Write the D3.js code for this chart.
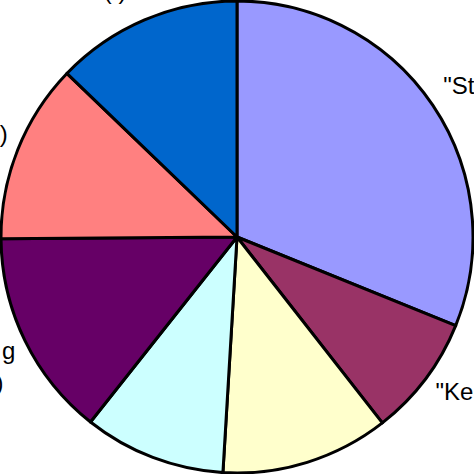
<!DOCTYPE html>
<html><head><meta charset="utf-8">
<script src="https://cdn.jsdelivr.net/npm/d3@7"></script>
<style>html,body{margin:0;padding:0;background:#fff;overflow:hidden}svg{display:block}</style>
</head><body>
<svg id="chart" width="474" height="474"></svg>
<script>
// Slices clockwise from 12 o'clock
const categories = ["A", "B", "C", "D", "E", "F", "G"];
const values = [31.1, 8.3, 11.5, 9.7, 14.2, 12.3, 12.8];
const colors = ["#9999FF", "#993366", "#FFFFCC", "#CCFFFF", "#660066", "#FF8080", "#0066CC"];
// Visible (cropped) label text, one entry per line
const labelLines = [['"St'], ['"Ke'], [], [], ['g', ')'], [')'], ['( )']];

const W = 474, H = 474, cx = 237, cy = 237, R = 236;
const svg = d3.select("#chart");
const g = svg.append("g").attr("transform", `translate(${cx},${cy})`);

const pie = d3.pie().sort(null).value(d => d.v);
const arcs = pie(values.map((v, i) => ({v, i})));
const arc = d3.arc().innerRadius(0).outerRadius(R);
const labelArc = d3.arc().innerRadius(250).outerRadius(250);

g.selectAll("path").data(arcs).join("path")
  .attr("d", arc)
  .attr("fill", d => colors[d.data.i])
  .attr("stroke", "#000")
  .attr("stroke-width", 3)
  .attr("stroke-linejoin", "round");

const fontSize = 24, lineH = 32;
arcs.forEach(d => {
  const lines = labelLines[d.data.i];
  if (!lines.length) return;
  const [px, py] = labelArc.centroid(d);
  const a = (d.startAngle + d.endAngle) / 2;
  const s = Math.sin(a), c = Math.cos(a);
  let anchor, x, y0;
  if (Math.abs(s) < 0.5) { // top / bottom
    anchor = "middle"; x = px - 24;
    y0 = c > 0 ? py - 8 - (lines.length - 1) * lineH : py + 16;
  } else {
    anchor = s > 0 ? "start" : "end";
    x = s > 0 ? px - 1 : px + 3;
    y0 = c > 0 ? py - 3 - (lines.length - 1) * lineH : py + 12;
  }
  const t = g.append("text")
    .attr("text-anchor", anchor)
    .attr("font-family", "Liberation Sans, Arial, sans-serif")
    .attr("font-size", fontSize)
    .attr("fill", "#000");
  lines.forEach((ln, k) => {
    t.append("tspan")
      .attr("x", x + (k > 0 && anchor === "end" ? -12 : 0))
      .attr("y", y0 + k * lineH)
      .text(ln);
  });
});
</script>
</body></html>
